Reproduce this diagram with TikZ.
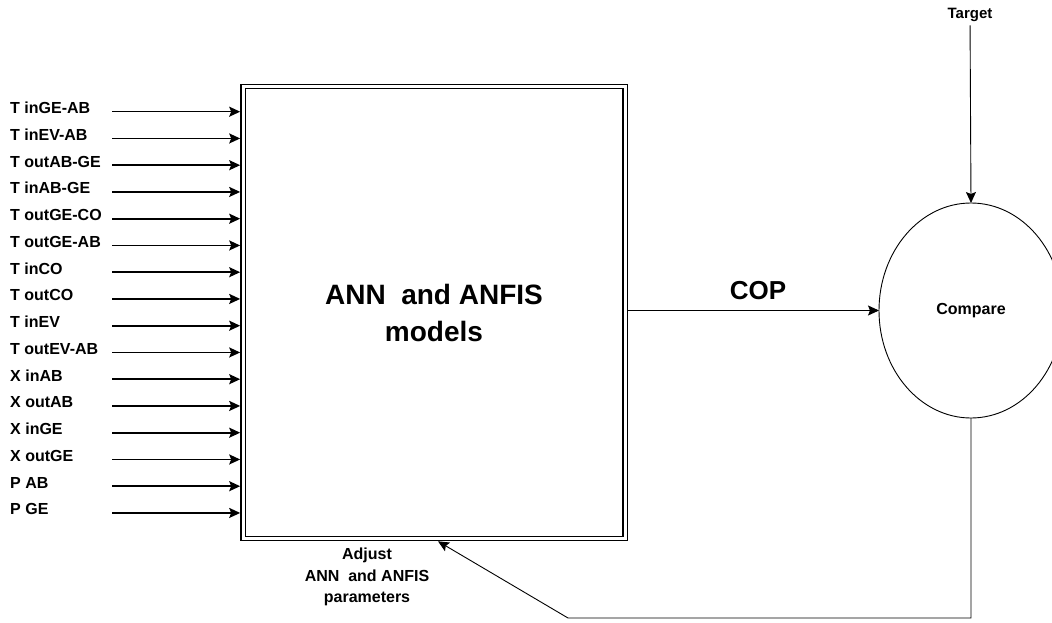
\documentclass[tikz,border=0pt]{standalone}
\usepackage{fontspec}
\setmainfont{Liberation Sans}
\usepackage{tikz}
\usetikzlibrary{shapes.geometric, arrows.meta, positioning}

\begin{document}
\begin{tikzpicture}[
  x=1pt, y=-1pt,
  every node/.style={font=\bfseries},
  lbl/.style={anchor=base west, inner sep=0pt, font=\bfseries\fontsize{16}{18}\selectfont},
  small/.style={align=center, font=\bfseries\fontsize{16}{21.5}\selectfont},
  models/.style={rectangle, draw=black, double, line width=1.2pt, double distance=3pt,
                 minimum width=382pt, minimum height=452pt, outer sep=2.8pt,
                 align=center, font=\bfseries\fontsize{28}{37}\selectfont},
  cmpbox/.style={ellipse, draw=black, line width=0.9pt, minimum width=184pt,
                 minimum height=215pt, inner sep=0pt, outer sep=0pt,
                 font=\bfseries\fontsize{16}{19}\selectfont},
  inarr/.style={-{Stealth[length=11pt, width=10pt, inset=2pt]}, line width=1.6pt},
  arr/.style={-{Stealth[length=11pt, width=10pt, inset=2pt]}, line width=0.9pt}
]
\useasboundingbox (0,0) rectangle (1052,623);

% --- Model block ---
\node[models] (models) at (434,312.5) {ANN\ \ and ANFIS\\models};

% --- Compare ---
\node[cmpbox] (cmp) at (971,310.5) {Compare};
\node[small, font=\bfseries\fontsize{15}{18}\selectfont] (target) at (970,15) {Target};

% --- Inputs (left column) ---
\foreach \txt [count=\i from 0] in {T inGE-AB, T inEV-AB, T outAB-GE, T inAB-GE,
    T outGE-CO, T outGE-AB, T inCO, T outCO, T inEV, T outEV-AB,
    X inAB, X outAB, X inGE, X outGE, P AB, P GE} {
  \node[lbl] (in\i) at (10,113.7+26.75*\i) {\txt};
  \coordinate (s\i) at (112,111.7+26.75*\i);
  \draw[inarr] (s\i) -- (s\i -| models.west);
}

% --- Output ---
\node (cop) at (758,291) {\fontsize{26}{30}\selectfont COP};
\draw[arr] (models.east |- cmp.west) -- (cmp.west);
\draw[arr] (target) -- (cmp.north);

% --- Feedback ---
\coordinate (bend) at (568,618);
\draw[arr] (cmp.south) |- (bend) -- ([xshift=4pt]models.south);
\node[small] (adj) at (367,577) {Adjust\\ANN\ \ and ANFIS\\parameters};

\end{tikzpicture}
\end{document}
